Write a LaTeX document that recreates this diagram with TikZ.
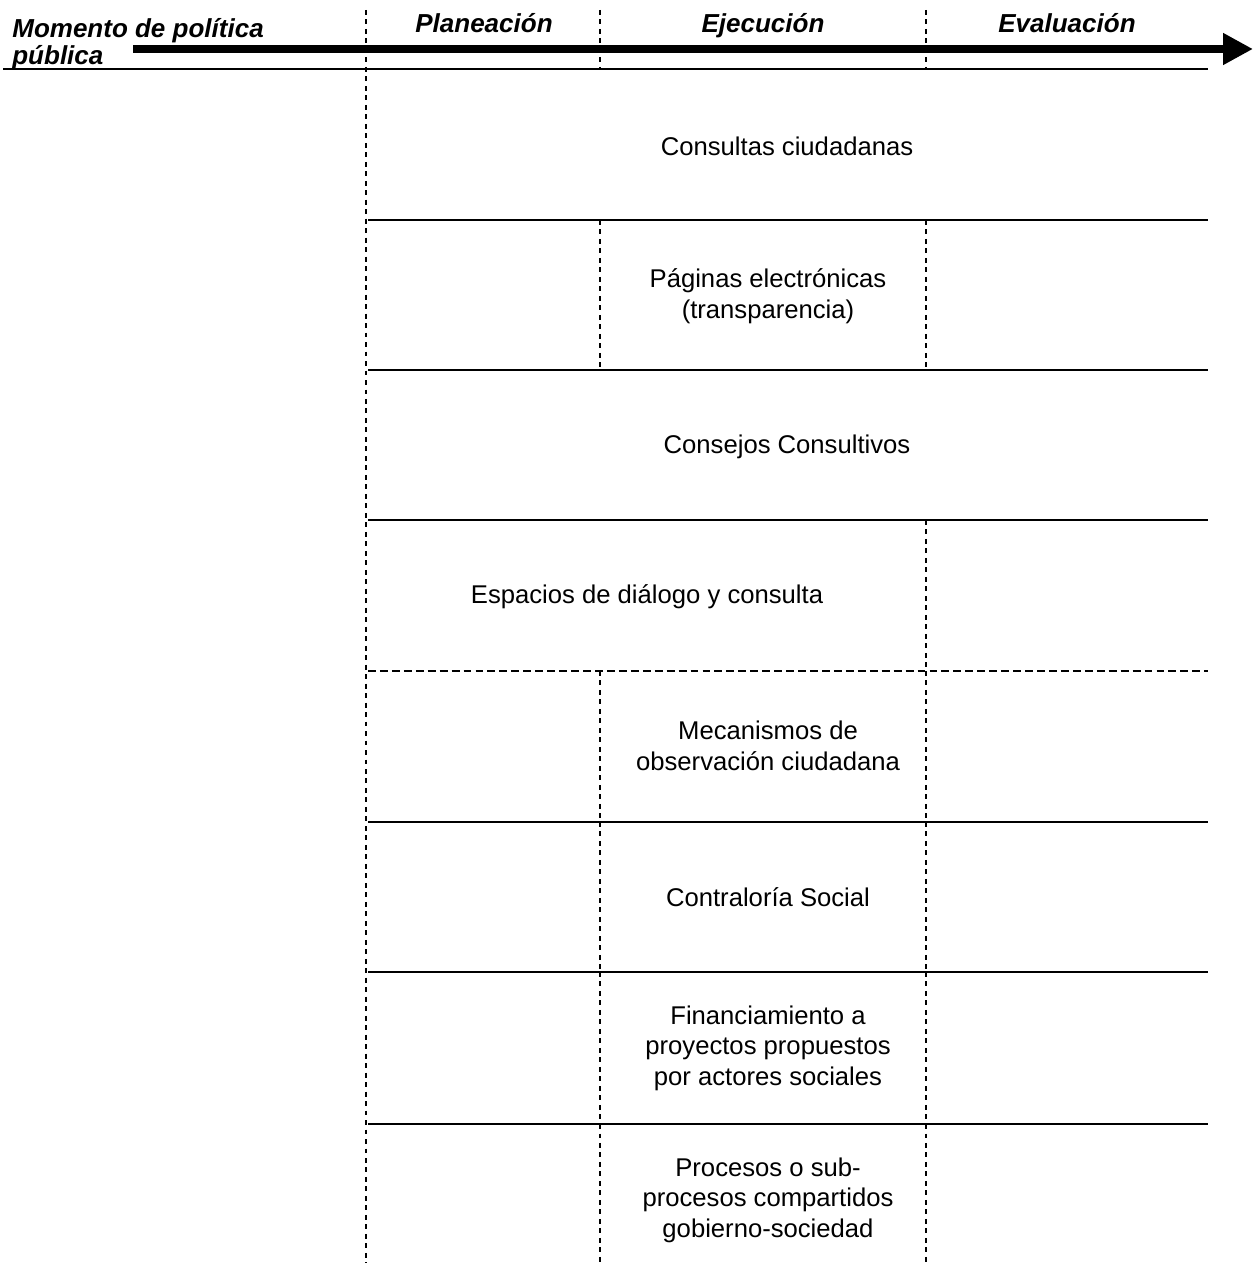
\documentclass[tikz,border=0pt]{standalone}
\usepackage{fontspec}
\setmainfont{Liberation Sans}
\usepackage{tikz}
\usetikzlibrary{arrows.meta,positioning}

\begin{document}
\begin{tikzpicture}
            [x=0.02cm,y=-0.02cm,
            every node/.style={font=\fontsize{14.6}{17.4}\selectfont,inner sep=0pt},
            head/.style={font=\fontsize{14.8}{15.3}\selectfont\bfseries\itshape},
            cell/.style={align=center},
            rowline/.style={line width=1.2pt},
            rowdash/.style={line width=1pt,dash pattern=on 4.5pt off 2.3pt},
            sepline/.style={line width=1.3pt,dash pattern=on 2.8pt off 2.6pt},
            timeline/.style={line width=4.5pt,-{Triangle[length=17pt,width=17pt]}}
            ]
            \useasboundingbox (0,0) rectangle (1255,1263);
            % header
            \node[head,anchor=north west,align=left] (momento) at (12,18) {Momento de política\\pública};
            \node[head,anchor=base] (planeacion) at (484,33) {Planeación};
            \node[head,anchor=base] (ejecucion) at (763,33) {Ejecución};
            \node[head,anchor=base] (evaluacion) at (1067,33) {Evaluación};
            \coordinate (tstart) at (133,49);
            \coordinate (tend) at (1253,49);
            \draw[timeline] (tstart) -- (tend);
            \draw[rowline] (3,69) -- (1208,69);
            \draw[sepline] (366,10) -- (366,1263);
            \foreach \x in {600,926}
              \draw[sepline] (\x,10) -- (\x,69);
            % rows
            \foreach \y in {220,370,520,822,972,1124}
              \draw[rowline] (368,\y) -- (1208,\y);
            \draw[rowdash] (368,671) -- (1208,671);
            \foreach \a/\b in {220/370,671/822,822/972,972/1124,1124/1263}{
              \draw[sepline] (600,\a) -- (600,\b);
              \draw[sepline] (926,\a) -- (926,\b);
            }
            \draw[sepline] (926,520) -- (926,671);
            \node[cell] (consultas) at (787,146) {Consultas ciudadanas};
            \node[cell] (paginas) at (768,296) {Páginas electrónicas\\(transparencia)};
            \node[cell] (consejos) at (787,447) {Consejos Consultivos};
            \node[cell] (espacios) at (647,597) {Espacios de diálogo y consulta};
            \node[cell] (mecanismos) at (768,746) {Mecanismos de\\observación ciudadana};
            \node[cell] (contraloria) at (768,897) {Contraloría Social};
            \node[cell] (financiamiento) at (768,1048) {Financiamiento a\\proyectos propuestos\\por actores sociales};
            \node[cell] (procesos) at (768,1200) {Procesos o sub-\\procesos compartidos\\gobierno-sociedad};
          \end{tikzpicture}
\end{document}
